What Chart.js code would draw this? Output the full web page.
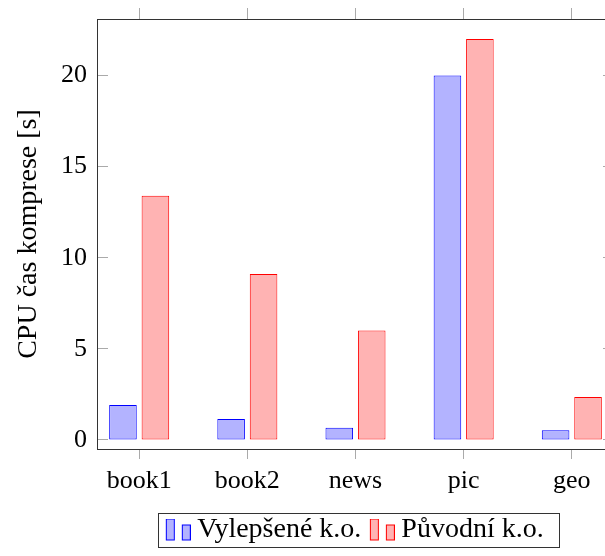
<!DOCTYPE html>
<html>
<head>
<meta charset="utf-8">
<script src="https://cdn.jsdelivr.net/npm/chart.js@4"></script>
<style>
  html, body { margin: 0; padding: 0; background: #fff; overflow: hidden; }
  #wrap { width: 620px; height: 556px; }
</style>
</head>
<body>
<div id="wrap"><canvas id="barCanvas" width="620" height="556"></canvas></div>
<script>
const categories = ["book1", "book2", "news", "pic", "geo"];
const improved = [1.92, 1.15, 0.66, 20.0, 0.53];
const original = [13.4, 9.1, 6.0, 22.0, 2.36];
const yTicks = [0, 5, 10, 15, 20];
const seriesNames = ["Vylepšené k.o.", "Původní k.o."];

const FONT = "'Liberation Serif', 'Times New Roman', serif";
const frameColor = "#333";
const tickColor = "#aaa";

// the little two-bar legend symbol, like pgfplots draws it
// (transparent space on the left so it sits close to the text)
function legendIcon(stroke, fill) {
    const c = document.createElement("canvas");
    c.width = 31;
    c.height = 23;
    const g = c.getContext("2d");
    g.fillStyle = fill;
    g.strokeStyle = stroke;
    g.lineWidth = 1;
    g.fillRect(6.5, 0.5, 8, 21);
    g.strokeRect(6.5, 0.5, 8, 21);
    g.fillRect(22.5, 6.5, 8, 15);
    g.strokeRect(22.5, 6.5, 8, 15);
    return c;
}

const keepCategoryTicks = s => { s.ticks = categories.map((c, i) => ({ value: i })); };
const keepYTicks = s => { s.ticks = yTicks.map(v => ({ value: v })); };
const fixYWidth = w => s => {
    s.width = w;
    s.paddingTop = 0;
    s.paddingBottom = 0;
};

const legendFrame = {
    id: "legendFrame",
    afterDraw(chart) {
        const boxes = chart.legend.legendHitBoxes;
        if (!boxes || !boxes.length) return;
        const first = boxes[0];
        const last = boxes[boxes.length - 1];
        const ctx = chart.ctx;
        ctx.save();
        ctx.strokeStyle = frameColor;
        ctx.lineWidth = 1;
        const x0 = Math.round(first.left - 9) + 0.5;
        const x1 = Math.round(last.left + last.width + 15) + 0.5;
        const y0 = Math.round(first.top - 3) + 0.5;
        const y1 = Math.round(first.top + first.height + 3) + 0.5;
        ctx.strokeRect(x0, y0, x1 - x0, y1 - y0);
        ctx.restore();
    }
};

const barCanvas = document.getElementById("barCanvas");

const barChart = new Chart(barCanvas, {
    type: "bar",
    data: {
        datasets: [{
            label: seriesNames[0],
            data: improved.map((v, i) => ({ x: i, y: v })),
            backgroundColor: "#b3b3ff",
            borderColor: "#0000ff",
            borderWidth: 1,
            borderSkipped: false
        }, {
            label: seriesNames[1],
            data: original.map((v, i) => ({ x: i, y: v })),
            backgroundColor: "#ffb3b3",
            borderColor: "#ff0000",
            borderWidth: 1,
            borderSkipped: false
        }]
    },
    options: {
        responsive: false,
        animation: false,
        layout: { padding: { top: 8, right: 6, bottom: 2, left: 0 } },
        datasets: {
            bar: { categoryPercentage: 0.6, barPercentage: 0.85 }
        },
        plugins: {
            legend: {
                position: "bottom",
                fullSize: false,
                labels: {
                    usePointStyle: true,
                    pointStyleWidth: 16,
                    padding: 10,
                    color: "#000",
                    font: { family: FONT, size: 28 },
                    generateLabels: chart => chart.data.datasets.map((ds, i) => ({
                        text: ds.label,
                        pointStyle: legendIcon(ds.borderColor, ds.backgroundColor),
                        fontColor: "#000",
                        lineWidth: 0,
                        hidden: false,
                        datasetIndex: i
                    }))
                }
            },
            tooltip: { enabled: false }
        },
        scales: {
            x: {
                type: "linear",
                position: "bottom",
                offset: false,
                min: -0.39,
                max: 4.39,
                afterBuildTicks: keepCategoryTicks,
                afterFit: s => { s.height = 57; },
                grid: { offset: false, drawOnChartArea: false, tickLength: 10, color: tickColor },
                border: { display: true, color: frameColor },
                ticks: {
                    padding: 7,
                    color: "#000",
                    font: { family: FONT, size: 26 },
                    callback: v => categories[v]
                }
            },
            xTop: {
                type: "linear",
                position: "top",
                offset: false,
                min: -0.39,
                max: 4.39,
                afterBuildTicks: keepCategoryTicks,
                afterFit: s => { s.height = 11; },
                grid: { offset: false, drawOnChartArea: false, tickLength: 11, color: tickColor },
                border: { display: true, color: frameColor },
                ticks: { display: false }
            },
            y: {
                position: "left",
                min: -0.5,
                max: 23.1,
                afterBuildTicks: keepYTicks,
                afterFit: fixYWidth(97),
                grid: { drawOnChartArea: false, tickLength: -11, color: tickColor },
                border: { display: true, color: frameColor },
                ticks: {
                    padding: 21,
                    color: "#000",
                    font: { family: FONT, size: 26 }
                },
                title: {
                    display: true,
                    text: "CPU čas komprese [s]",
                    color: "#000",
                    font: { family: FONT, size: 28 },
                    padding: { top: 12, bottom: 0 }
                }
            },
            yRight: {
                position: "right",
                min: -0.5,
                max: 23.1,
                afterBuildTicks: keepYTicks,
                afterFit: fixYWidth(0),
                grid: { drawOnChartArea: false, tickLength: -11, color: tickColor },
                border: { display: true, color: frameColor },
                ticks: { display: false }
            }
        }
    },
    plugins: [legendFrame]
});
</script>
</body>
</html>
